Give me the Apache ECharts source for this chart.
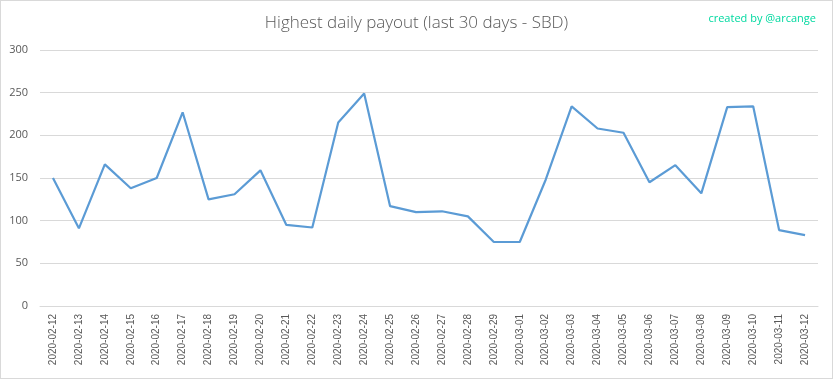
<!DOCTYPE html>
<html><head><meta charset="utf-8">
<script src="https://cdn.jsdelivr.net/npm/echarts@6/dist/echarts.min.js"></script>
<style>html,body{margin:0;padding:0;background:#fff}#c{width:833px;height:379px;box-sizing:border-box;border:1px solid #d9d9d9}</style>
</head><body><div id="c"></div>
<script>
const categories = ["2020-02-12","2020-02-13","2020-02-14","2020-02-15","2020-02-16","2020-02-17","2020-02-18","2020-02-19","2020-02-20","2020-02-21","2020-02-22","2020-02-23","2020-02-24","2020-02-25","2020-02-26","2020-02-27","2020-02-28","2020-02-29","2020-03-01","2020-03-02","2020-03-03","2020-03-04","2020-03-05","2020-03-06","2020-03-07","2020-03-08","2020-03-09","2020-03-10","2020-03-11","2020-03-12"];
const payout = [150,91,166,138,150,227,125,131,159,95,92,215,249,117,110,111,105,75,75,148,234,208,203,145,165,132,233,234,89,83];
const titleText = "Highest daily payout (last 30 days - SBD)";
const creditText = "created by @arcange";
const chart = echarts.init(document.getElementById('c'), null, {renderer:'canvas'});
chart.setOption({
  animation:false,
  title:[{text:titleText,left:'center',top:9,textStyle:{fontFamily:'Open Sans',fontWeight:300,fontSize:17,color:'#595959'}},
         {text:creditText,right:11,top:7,textStyle:{fontFamily:'Open Sans',fontWeight:'normal',fontSize:11,color:'#00d9a0'}}],
  grid:{left:39,right:14,top:49,bottom:72,containLabel:false},
  xAxis:{type:'category',data:categories,boundaryGap:true,
    axisLine:{lineStyle:{color:'#d9d9d9'}},axisTick:{show:false},
    axisLabel:{rotate:90,interval:0,fontFamily:'Liberation Sans',fontSize:10,color:'#595959',margin:8}},
  yAxis:{type:'value',min:0,max:300,interval:50,
    axisLine:{show:false},axisTick:{show:false},
    splitLine:{lineStyle:{color:'#d9d9d9'}},
    axisLabel:{fontFamily:'Open Sans',fontSize:11,color:'#595959',margin:12}},
  series:[{type:'line',data:payout,symbol:'none',lineStyle:{color:'#5b9bd5',width:2.2}}]
});
</script></body></html>
